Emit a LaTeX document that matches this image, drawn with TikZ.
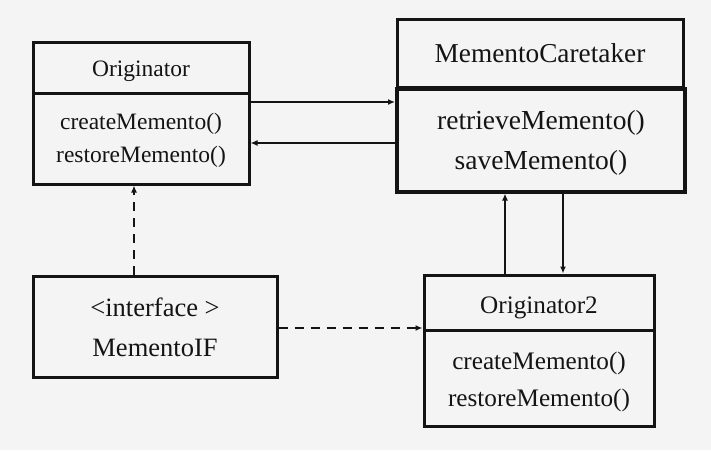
\documentclass[tikz,border=0pt]{standalone}
\usepackage{fontspec}
\setmainfont{Liberation Serif}
\usetikzlibrary{arrows.meta}
\definecolor{bg}{HTML}{F4F4F4}
\definecolor{ink}{HTML}{141414}
\newcommand\shtext[2]{\raisebox{-#1}[\height][\depth]{\begin{tabular}{@{}c@{}}#2\end{tabular}}}
\begin{document}
\begin{tikzpicture}[x=1pt,y=-1pt,
  comp/.style={draw=ink, line width=3pt, fill=bg, inner sep=0pt, text=ink},
  conn/.style={draw=ink, line width=1.8pt, -{Latex[length=7pt,width=6pt]}},
  dconn/.style={conn, dash pattern=on 9pt off 7pt}]
\fill[bg] (0,0) rectangle (711,450);
\useasboundingbox (0,0) rectangle (711,450);
% Originator
\node[comp, minimum width=216pt, minimum height=51pt, font=\fontsize{23.5}{28}\selectfont] (ot) at (141,67.5) {\shtext{3pt}{Originator}};
\node[comp, minimum width=216pt, minimum height=91pt, font=\fontsize{23.5}{33}\selectfont] (om) at (141,138.5) {\shtext{1pt}{createMemento()\\restoreMemento()}};
% Caretaker
\node[comp, minimum width=286pt, minimum height=68pt, font=\fontsize{27.3}{32}\selectfont] (ct) at (540,53) {\shtext{3pt}{MementoCaretaker}};
\node[comp, line width=4pt, minimum width=288pt, minimum height=103pt, font=\fontsize{27.5}{40}\selectfont] (cm) at (541,140) {\shtext{1pt}{retrieveMemento()\\saveMemento()}};
% Originator2
\node[comp, minimum width=230pt, minimum height=55pt, font=\fontsize{25.2}{30}\selectfont] (pt) at (539,302.5) {\shtext{5pt}{Originator2}};
\node[comp, minimum width=230pt, minimum height=96pt, font=\fontsize{25.2}{37}\selectfont] (pm) at (539,378) {\shtext{3pt}{createMemento()\\restoreMemento()}};
% MementoIF
\node[comp, minimum width=244pt, minimum height=101pt, font=\fontsize{26.5}{40}\selectfont] (mi) at (155,326.5) {\shtext{2pt}{<interface >\\MementoIF}};
% connectors
\coordinate (a1) at (0,102);
\coordinate (a2) at (0,143);
\coordinate (v1) at (505,0);
\coordinate (v2) at (563,0);
\coordinate (d1) at (134,0);
\coordinate (d2) at (0,328);
\draw[conn] (om.east |- a1) -- (cm.west |- a1);
\draw[conn] (cm.west |- a2) -- (om.east |- a2);
\draw[conn] (pt.north -| v1) -- (cm.south -| v1);
\draw[conn] (cm.south -| v2) -- (pt.north -| v2);
\draw[dconn] (mi.north -| d1) -- (om.south -| d1);
\draw[dconn] (mi.east |- d2) -- (pt.west |- d2);
\end{tikzpicture}
\end{document}
